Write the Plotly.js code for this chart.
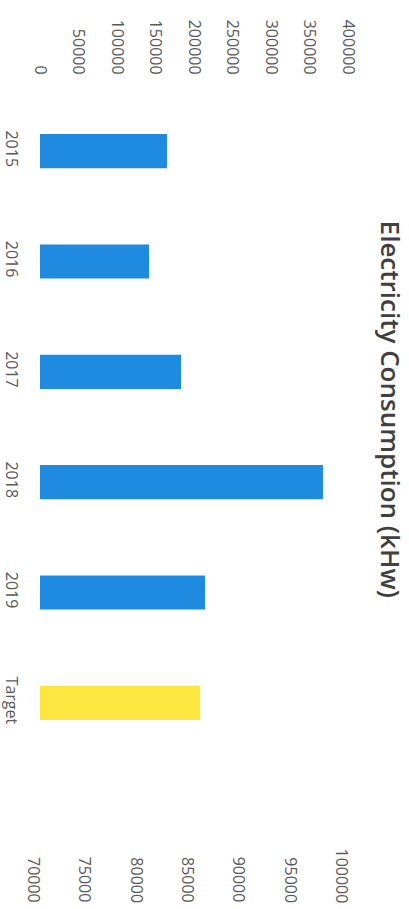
<!DOCTYPE html>
<html>
<head>
<meta charset="utf-8">
<script src="https://cdn.plot.ly/plotly-3.0.1.min.js"></script>
<style>html,body{margin:0;padding:0;background:#fff;}#chart{width:409px;height:909px;}</style>
</head>
<body>
<div id="chart"></div>
<script>
const categories = ['2015', '2016', '2017', '2018', '2019'];
const consumption = [164900, 141600, 183100, 367500, 214300];
const targetCategory = ['Target'];
const targetValue = [85600];
const primaryTicks = [0, 50000, 100000, 150000, 200000, 250000, 300000, 350000, 400000];
const secondaryTicks = [70000, 75000, 80000, 85000, 90000, 95000, 100000];
const chartTitle = 'Electricity Consumption (kHw)';

const labelFont = {family: 'Open Sans, sans-serif', size: 16, color: '#595959'};

const traces = [
  {type: 'bar', orientation: 'h', y: categories, x: consumption, xaxis: 'x', yaxis: 'y',
   marker: {color: '#1E8AE0'}, hoverinfo: 'x+y', showlegend: false},
  {type: 'bar', orientation: 'h', y: targetCategory, x: targetValue, xaxis: 'x2', yaxis: 'y',
   marker: {color: '#FDE63E'}, hoverinfo: 'x+y', showlegend: false}
];

const annotations = secondaryTicks.map(v => ({
  x: v, xref: 'x2', y: 0, yref: 'paper', yanchor: 'bottom', xanchor: 'center',
  yshift: -147, xshift: -6, textangle: 90, showarrow: false,
  text: String(v), font: labelFont
}));
annotations.push({
  x: 1.138, xref: 'paper', y: 0.527, yref: 'paper', xanchor: 'center', yanchor: 'middle',
  textangle: 90, showarrow: false, text: chartTitle,
  font: {family: 'Open Sans, sans-serif', size: 26, weight: 600, color: '#404040'}
});

const layout = {
  width: 409, height: 909,
  margin: {l: 40, r: 61, t: 96, b: 151, pad: 0},
  paper_bgcolor: '#ffffff', plot_bgcolor: '#ffffff',
  barmode: 'overlay', bargap: 0.69,
  showlegend: false,
  xaxis: {side: 'top', range: [0, 400000], tickvals: primaryTicks, ticktext: primaryTicks.map(String),
          tickangle: 90, showgrid: false, zeroline: false, showline: false, ticks: '',
          ticklabelstandoff: 18, tickfont: labelFont, fixedrange: true},
  xaxis2: {overlaying: 'x', side: 'bottom', range: [70000, 100000], tickvals: secondaryTicks,
           showticklabels: false, showgrid: false, zeroline: false, showline: false, ticks: '', fixedrange: true},
  yaxis: {type: 'category', autorange: 'reversed', tickangle: 90, showgrid: false, zeroline: false,
          showline: false, ticks: '', ticklabelstandoff: 17, tickfont: labelFont, fixedrange: true},
  annotations: annotations
};

Plotly.newPlot('chart', traces, layout, {displayModeBar: false, staticPlot: true});
</script>
</body>
</html>
